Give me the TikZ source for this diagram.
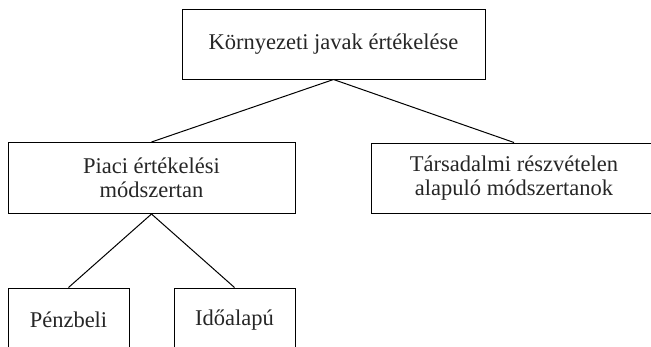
\documentclass[tikz,border=0pt]{standalone}
\usepackage{fontspec}
\setmainfont{Liberation Serif}
\usetikzlibrary{positioning}

\begin{document}
\begin{tikzpicture}[
    x=1pt, y=-1pt,
    every node/.style={align=center, font=\fontsize{22.5}{23.5}\selectfont, text=black!85},
    box/.style={draw, line width=1pt, inner sep=0pt},
    line width=1pt
]
    \useasboundingbox (0,0) rectangle (651,346);
    \clip (0,0) rectangle (651,346);

    \def\topY{44}
    \def\midY{178}
    \def\lowY{320}

    % upper level
    \node[box, minimum width=303pt, minimum height=70pt] (kornyezeti) at (333.5, \topY) {Környezeti javak értékelése};

    \node[box, minimum width=287pt, minimum height=71pt] (piaci) at (151.5, \midY) {Piaci értékelési\\módszertan};
    \node[box, minimum width=286pt, minimum height=70pt] (tarsadalmi) at (514, \midY) {Társadalmi részvételen\\alapuló módszertanok};

    % lower level, cut off by the page
    \node[box, minimum width=121pt, minimum height=64pt] (penzbeli) at (68.5, \lowY) {Pénzbeli};
    \node[box, minimum width=121pt, minimum height=64pt] (idoalapu) at (234.5, \lowY) {Időalapú};

    \draw (kornyezeti.south) -- (piaci.north);
    \draw (kornyezeti.south) -- (tarsadalmi.north);
    \draw (piaci.south) -- (penzbeli.north);
    \draw (piaci.south) -- (idoalapu.north);
\end{tikzpicture}
\end{document}
